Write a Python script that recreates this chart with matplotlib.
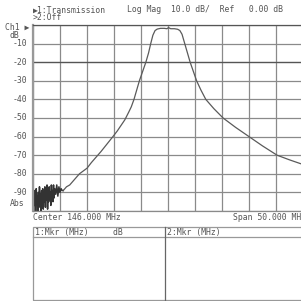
import matplotlib
matplotlib.use("Agg")
import matplotlib.pyplot as plt
from matplotlib.patches import Rectangle
from matplotlib.lines import Line2D

# noise floor at the low end of the sweep (MHz, dB)
noise_f = [121.0, 121.1, 121.2, 121.3, 121.4, 121.5, 121.6, 121.7, 121.8, 121.9, 122.0,
           122.1, 122.2, 122.3, 122.4, 122.5, 122.6, 122.7, 122.8, 122.9, 123.0, 123.1,
           123.2, 123.3, 123.4, 123.5, 123.6, 123.7, 123.8, 123.9, 124.0, 124.1, 124.2,
           124.3, 124.4, 124.5, 124.6, 124.7, 124.8, 124.9, 125.0, 125.2, 125.4, 125.6,
           125.8, 126.0, 126.2, 126.4]
noise_db = [-93, -100, -89, -97, -91, -100, -88, -96, -92, -100, -90,
            -98, -87, -95, -91, -100, -89, -97, -88, -99, -91, -95,
            -87, -98, -90, -94, -86, -99, -89, -95, -87, -93, -90,
            -97, -86, -92, -89, -95, -86, -93, -88, -91, -86, -92,
            -87, -90, -88, -89]

# filter response (MHz, dB)
resp_f = [126.6, 127.2, 127.8, 128.4, 129.0, 129.6, 130.3, 131.0, 131.8, 132.7, 133.6,
          134.7, 135.8, 136.6, 137.3, 138.0, 138.7, 139.2, 139.7, 140.2, 140.7, 141.3,
          141.9, 142.4, 142.8, 143.2, 143.6, 144.0, 144.6, 145.3, 145.8, 146.1, 146.5,
          147.2, 147.8, 148.2, 148.6, 149.1, 149.6, 150.1, 150.7, 151.3, 152.1, 153.0,
          154.5, 156.2, 158.5, 161.0, 163.5, 166.2, 168.5, 171.0]
resp_db = [-89, -87, -86, -84, -82, -80, -78.5, -77, -74, -71, -68,
           -64, -60, -57, -54, -51, -47, -44, -40, -35, -30, -25,
           -20, -15, -10, -5.5, -3, -2.2, -1.8, -1.8, -2.0, -1.4, -2.0,
           -2.0, -2.3, -3, -5, -10, -15, -20, -25, -30, -35, -40,
           -45, -50, -55, -60, -65, -70, -72.5, -75]

freq_ticks = [121, 126, 131, 136, 141, 146, 151, 156, 161, 166, 171]
db_ticks = [0, -10, -20, -30, -40, -50, -60, -70, -80, -90, -100]
db_labels = ["", "-10", "-20", "-30", "-40", "-50", "-60", "-70", "-80", "-90", ""]

W = 301.0
mono = ["DejaVu Sans Mono", "DejaVu Sans"]
fs = 5.9
tc = "#555555"

fig = plt.figure(figsize=(3.01, 3.01), dpi=100)
fig.patch.set_facecolor("white")

def fx(px):
    return px / W

def fy(py):
    return 1 - py / W

ax = fig.add_axes([fx(33), fy(211), 270 / W, 186 / W])
ax.set_xlim(121, 171)
ax.set_ylim(-100, 0)
ax.set_xticks(freq_ticks)
ax.set_yticks(db_ticks)
ax.tick_params(length=0, labelbottom=False, labelleft=False)
ax.grid(True, color="#8a8a8a", linewidth=0.9)
ax.axhline(-20, color="#555555", linewidth=0.9)
for s in ax.spines.values():
    s.set_color("#8a8a8a")
    s.set_linewidth(0.9)
ax.spines["left"].set_linewidth(1.6)
ax.spines["left"].set_color("#999999")
ax.spines["top"].set_color("#555555")

ax.plot(noise_f + resp_f[:1], noise_db + resp_db[:1], color="#333333", linewidth=1.1)
ax.plot(resp_f, resp_db, color="#5a5a5a", linewidth=0.9)

# header texts
fig.text(fx(33), fy(10), "\u25b61:Transmission", family=mono, size=fs, color=tc, va="center")
fig.text(fx(127), fy(10), "Log Mag  10.0 dB/  Ref   0.00 dB", family=mono, size=fs,
         color=tc, va="center")
fig.text(fx(33), fy(18), ">2:Off", family=mono, size=fs, color=tc, va="center")
fig.text(fx(5), fy(27), "Ch1 \u25b6", family=mono, size=fs, color=tc, va="center")
fig.text(fx(10), fy(36), "dB", family=mono, size=fs, color=tc, va="center")
fig.text(fx(10), fy(203), "Abs", family=mono, size=fs, color=tc, va="center")

# y labels
for v, lab in zip(db_ticks, db_labels):
    if lab:
        ax.text(-0.022, v, lab, transform=ax.get_yaxis_transform(), family=mono,
                size=fs, color=tc, ha="right", va="center")

fig.text(fx(33), fy(218), "Center 146.000 MHz", family=mono, size=fs, color=tc, va="center")
fig.text(fx(233), fy(218), "Span 50.000 MHz", family=mono, size=fs, color=tc, va="center")

# marker table
tcol = "#999999"
fig.patches.append(Rectangle((fx(33), fy(300)), fx(310) - fx(33), fy(227) - fy(300),
                             transform=fig.transFigure, fill=False, edgecolor=tcol,
                             linewidth=0.9))
fig.lines.append(Line2D([fx(33), 1], [fy(237), fy(237)], transform=fig.transFigure,
                        color=tcol, linewidth=0.9))
fig.lines.append(Line2D([fx(165), fx(165)], [fy(227), fy(300)], transform=fig.transFigure,
                        color="#666666", linewidth=0.9))
fig.text(fx(35), fy(232), "1:Mkr (MHz)     dB", family=mono, size=fs, color=tc, va="center")
fig.text(fx(167), fy(232), "2:Mkr (MHz)", family=mono, size=fs, color=tc, va="center")

fig.savefig("out.png", dpi=100, facecolor="white")
